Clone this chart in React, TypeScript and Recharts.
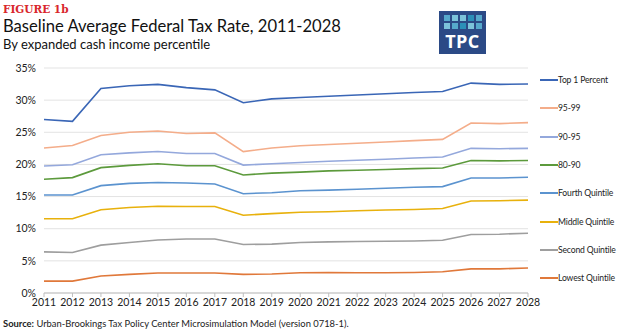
import React from 'react'
import { LineChart, Line, XAxis, YAxis, CartesianGrid } from 'recharts'

const years = [
  2011, 2012, 2013, 2014, 2015, 2016, 2017, 2018, 2019, 2020,
  2021, 2022, 2023, 2024, 2025, 2026, 2027, 2028,
]

const top1 = [27.0, 26.7, 31.8, 32.25, 32.45, 31.95, 31.6, 29.6, 30.2, 30.4, 30.6, 30.8, 31.0, 31.2, 31.35, 32.65, 32.45, 32.5]
const p95to99 = [22.55, 22.95, 24.5, 25.0, 25.2, 24.8, 24.9, 22.0, 22.55, 22.9, 23.1, 23.3, 23.5, 23.7, 23.9, 26.45, 26.35, 26.5]
const p90to95 = [19.75, 19.95, 21.5, 21.8, 22.0, 21.7, 21.7, 19.9, 20.1, 20.3, 20.5, 20.65, 20.8, 21.0, 21.15, 22.5, 22.45, 22.5]
const p80to90 = [17.7, 17.95, 19.5, 19.85, 20.1, 19.8, 19.8, 18.35, 18.65, 18.8, 19.0, 19.1, 19.2, 19.35, 19.45, 20.6, 20.55, 20.6]
const fourth = [15.25, 15.25, 16.7, 17.05, 17.2, 17.1, 16.95, 15.45, 15.6, 15.9, 16.0, 16.15, 16.3, 16.45, 16.55, 17.9, 17.9, 18.0]
const middle = [11.55, 11.55, 12.95, 13.3, 13.5, 13.45, 13.45, 12.1, 12.35, 12.55, 12.65, 12.8, 12.9, 13.0, 13.15, 14.3, 14.35, 14.45]
const second = [6.4, 6.3, 7.45, 7.85, 8.25, 8.4, 8.4, 7.55, 7.6, 7.85, 7.95, 8.0, 8.05, 8.1, 8.2, 9.1, 9.15, 9.3]
const lowest = [1.85, 1.85, 2.65, 2.9, 3.1, 3.1, 3.1, 2.9, 2.95, 3.15, 3.2, 3.15, 3.15, 3.2, 3.3, 3.75, 3.75, 3.9]

const yTicks = [0, 5, 10, 15, 20, 25, 30, 35]

const series = [
  { key: 'top1', name: 'Top 1 Percent', values: top1, color: '#3a66b6' },
  { key: 'p95', name: '95-99', values: p95to99, color: '#f4ad8a' },
  { key: 'p90', name: '90-95', values: p90to95, color: '#94a8dc' },
  { key: 'p80', name: '80-90', values: p80to90, color: '#5c9a3c' },
  { key: 'q4', name: 'Fourth Quintile', values: fourth, color: '#5b93cf' },
  { key: 'q3', name: 'Middle Quintile', values: middle, color: '#e8b10c' },
  { key: 'q2', name: 'Second Quintile', values: second, color: '#9e9e9e' },
  { key: 'q1', name: 'Lowest Quintile', values: lowest, color: '#e0783a' },
]

const data = years.map((y, i) => {
  const row: any = { year: y }
  series.forEach(s => { row[s.key] = s.values[i] })
  return row
})

const font = 'Lato, "Open Sans", sans-serif'

function Logo() {
  const cells = ['#56a9cc', '#7cc3da', '#7cc3da', '#2b8fb8', '#56a9cc', '#7cc3da', '#56a9cc', '#2b8fb8', '#7cc3da', '#56a9cc']
  return (
    <div style={{ position: 'absolute', left: 439, top: 11, width: 47, height: 43, background: '#2b4a86' }}>
      <div style={{ position: 'absolute', left: 5, top: 4, width: 38, display: 'flex', flexWrap: 'wrap', gap: 1.5 }}>
        {cells.map((c, i) => (
          <span key={i} style={{ width: 6.4, height: 6.4, background: c }}></span>
        ))}
      </div>
      <div style={{ position: 'absolute', left: 0, top: 20, width: 47, textAlign: 'center', color: '#fff', fontFamily: '"Open Sans", sans-serif', fontWeight: 700, fontSize: 18, lineHeight: '20px', letterSpacing: 0.5 }}>TPC</div>
    </div>
  )
}

export default function App() {
  return (
    <div style={{ position: 'absolute', left: 0, top: 0, width: 620, height: 335, background: '#fff', overflow: 'hidden' }}>
      <div style={{ position: 'absolute', left: 3, top: 3, color: '#d9262c', fontFamily: '"DejaVu Serif", serif', fontWeight: 700, fontSize: 10.5 }}>FIGURE 1b</div>
      <div style={{ position: 'absolute', left: 3, top: 16, color: '#111', fontFamily: font, fontSize: 16.6, whiteSpace: 'nowrap' }}>Baseline Average Federal Tax Rate, 2011-2028</div>
      <div style={{ position: 'absolute', left: 3, top: 36, color: '#111', fontFamily: font, fontSize: 13, whiteSpace: 'nowrap' }}>By expanded cash income percentile</div>
      <Logo />
      <div style={{ position: 'absolute', left: 0, top: 0 }}>
        <LineChart width={620} height={335} data={data} margin={{ top: 68, right: 92, bottom: 12, left: 0 }}>
          <CartesianGrid vertical={false} stroke="#e3e3e3" />
          <XAxis
            dataKey="year"
            height={30}
            tickLine={{ stroke: '#bfbfbf' }}
            axisLine={{ stroke: '#bfbfbf' }}
            tickSize={4}
            tick={{ fontFamily: font, fontSize: 10.5, fill: '#222' }}
            interval={0}
            padding={{ left: 0, right: 0 }}
          />
          <YAxis
            width={44}
            domain={[0, 35]}
            ticks={yTicks}
            axisLine={false}
            tickLine={false}
            tickFormatter={v => `${v}%`}
            tick={{ fontFamily: font, fontSize: 10.5, fill: '#222' }}
          />
          {series.map(s => (
            <Line
              key={s.key}
              dataKey={s.key}
              name={s.name}
              stroke={s.color}
              strokeWidth={1.6}
              dot={false}
              type="linear"
              isAnimationActive={false}
            />
          ))}
        </LineChart>
      </div>
      {series.map((s, i) => (
        <div key={s.key} style={{ position: 'absolute', left: 540, top: 73 + i * 28.3, display: 'flex', alignItems: 'center', height: 14 }}>
          <span style={{ width: 18, height: 2, background: s.color }}></span>
          <span style={{ fontFamily: font, fontSize: 8.6, letterSpacing: -0.15, color: '#222', whiteSpace: 'nowrap' }}>{s.name}</span>
        </div>
      ))}
      <div style={{ position: 'absolute', left: 3, top: 318, fontFamily: font, fontSize: 9.4, color: '#222', whiteSpace: 'nowrap' }}>
        <b>Source:</b> Urban-Brookings Tax Policy Center Microsimulation Model (version 0718-1).
      </div>
    </div>
  )
}
